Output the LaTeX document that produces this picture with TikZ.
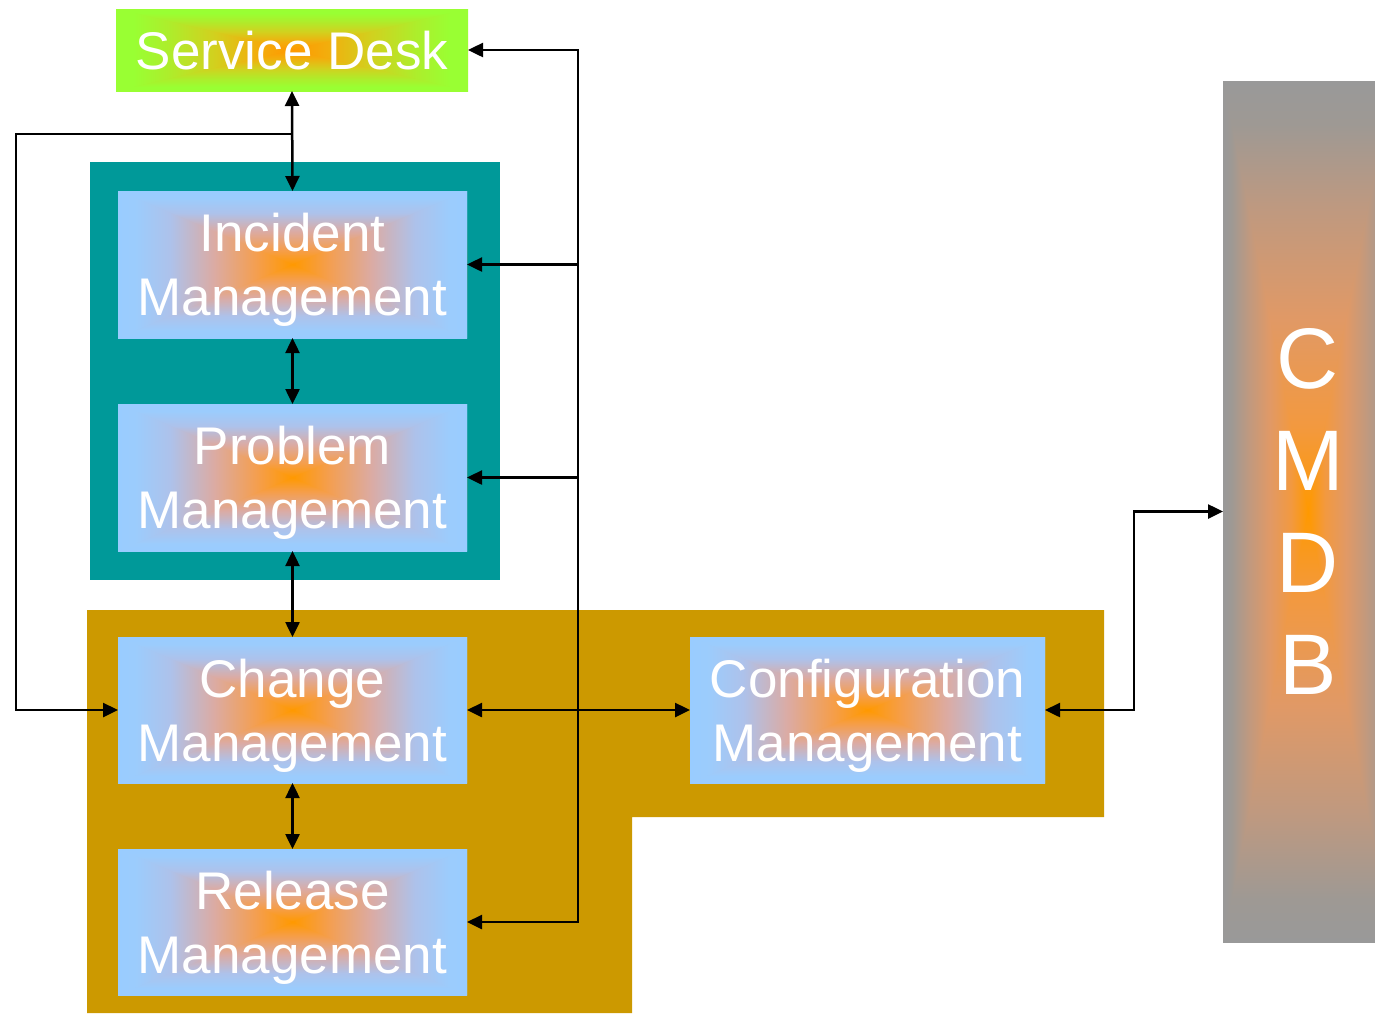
\documentclass[tikz,border=0pt]{standalone}
\usepackage{fontspec}
\setmainfont{Liberation Sans}
\usetikzlibrary{arrows.meta}

% rectangular glow: orange centre fading to the edge colour.
% A full-height vertical shading plus two side triangles with horizontal
% shadings; colours are given at 0, .1, .3, .55, .8 and 1 of the way in.
\newcommand\declareglow[7]{%
  \pgfdeclareverticalshading{#1v}{100bp}{rgb(0bp)=#2; rgb(25bp)=#2; rgb(27.5bp)=#3;
    rgb(32.5bp)=#4; rgb(38.75bp)=#5; rgb(45bp)=#6; rgb(50bp)=#7; rgb(55bp)=#6;
    rgb(61.25bp)=#5; rgb(67.5bp)=#4; rgb(72.5bp)=#3; rgb(75bp)=#2; rgb(100bp)=#2}%
  \pgfdeclarehorizontalshading{#1l}{100bp}{rgb(0bp)=#2; rgb(25bp)=#2; rgb(30bp)=#3;
    rgb(40bp)=#4; rgb(52.5bp)=#5; rgb(65bp)=#6; rgb(75bp)=#7; rgb(100bp)=#7}%
  \pgfdeclarehorizontalshading{#1r}{100bp}{rgb(0bp)=#7; rgb(25bp)=#7; rgb(35bp)=#6;
    rgb(47.5bp)=#5; rgb(60bp)=#4; rgb(70bp)=#3; rgb(75bp)=#2; rgb(100bp)=#2}%
}
\declareglow{blueglow}{(0.6,0.8,1)}{(0.61,0.8,0.99)}{(0.68,0.76,0.92)}{(0.86,0.67,0.64)}{(0.96,0.62,0.3)}{(1,0.6,0)}
\declareglow{greenglow}{(0.6,1,0.2)}{(0.6,1,0.2)}{(0.68,0.93,0.17)}{(0.82,0.82,0.12)}{(0.95,0.68,0.05)}{(1,0.6,0)}
\declareglow{grayglow}{(0.6,0.6,0.6)}{(0.62,0.6,0.58)}{(0.75,0.6,0.5)}{(0.88,0.6,0.4)}{(0.95,0.6,0.25)}{(1,0.6,0)}

\definecolor{tealgroup}{HTML}{009999}
\definecolor{goldgroup}{HTML}{CC9900}
\definecolor{boxblue}{HTML}{99CCFF}
\definecolor{boxgreen}{HTML}{99FF33}
\definecolor{boxgray}{HTML}{999999}

\begin{document}
\begin{tikzpicture}[x=1pt,y=-1pt,
  every node/.style={inner sep=0pt, outer sep=0pt},
  glow/.style={path picture={
    \shade[shading=#1v] (path picture bounding box.south west) rectangle (path picture bounding box.north east);
    \shade[shading=#1l] (path picture bounding box.north west) -- (path picture bounding box.south west)
      -- (path picture bounding box.center) -- cycle;
    \shade[shading=#1r] (path picture bounding box.north east) -- (path picture bounding box.south east)
      -- (path picture bounding box.center) -- cycle;}},
  procbox/.style={fill=boxblue, glow=blueglow, minimum width=349pt, minimum height=147pt,
    text=white, align=center, text depth=0pt,
    font=\fontsize{53}{64}\selectfont},
  link/.style={line width=2.5pt, draw=black},
  >={Triangle[length=15pt,width=14pt]}]

\clip (0,0) rectangle (1375,1013);

% group backgrounds
\fill[tealgroup] (90,162) rectangle (500,580);
\fill[goldgroup] (87,610) -- (1104,610) -- (1104,817) -- (632,817) -- (632,1013) -- (87,1013) -- cycle;

% process boxes
\node[fill=boxgreen, glow=greenglow, minimum width=352pt, minimum height=82pt,
  text=white, text depth=0pt, font=\fontsize{53}{64}\selectfont] (sd) at (292,50) {Service Desk};
\node[procbox] (inc)  at (292.5,264.5) {Incident\\Management};
\node[procbox] (prob) at (292.5,477.5) {Problem\\Management};
\node[procbox, minimum height=146pt] (chg) at (292.5,710) {Change\\Management};
\node[procbox, minimum height=146pt] (rel) at (292.5,922) {Release\\Management};
\node[procbox, minimum width=355pt, minimum height=146pt] (cfg) at (867.5,710) {Configuration\\Management};
\node[fill=boxgray, glow=grayglow, minimum width=170pt, minimum height=861pt,
  text=white, align=center, text depth=0pt,
  font=\fontsize{86}{102}\selectfont] (cmdb) at (1308,511.5) {C\\M\\D\\B};

% routing helpers
\coordinate (bus) at (578,0);
\coordinate (loopx) at (16,0);
\coordinate (split) at (292,134);
\coordinate (elbow) at (1134,0);

% vertical chain
\draw[link,<->] (sd.south) -- (inc.north);
\draw[link,<->] (inc.south) -- (prob.north);
\draw[link,<->] (prob.south) -- (chg.north);
\draw[link,<->] (chg.south) -- (rel.north);

% left loop from the service desk link to change management
\draw[link,->] (split) -- (split -| loopx) -- (chg.west -| loopx) -- (chg.west);

% right-hand bus
\draw[link,<->] (sd.east) -- (sd.east -| bus) -- (rel.east -| bus) -- (rel.east);
\draw[link,->] (inc.east -| bus) -- (inc.east);
\draw[link,->] (prob.east -| bus) -- (prob.east);

% change <-> configuration <-> CMDB
\draw[link,<->] (chg.east) -- (cfg.west);
\draw[link,<->] (cfg.east) -- (cfg.east -| elbow) -- (cmdb.west -| elbow) -- (cmdb.west);
\end{tikzpicture}
\end{document}
